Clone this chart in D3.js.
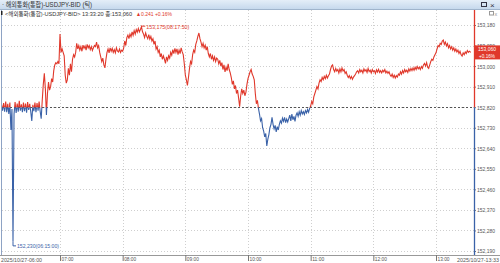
<!DOCTYPE html>
<meta charset="utf-8">
<style>
  body { margin: 0; background: #fff; }
  svg { display: block; font-family: "Liberation Sans", "Noto Sans CJK KR", sans-serif; }
  .grid line { stroke: #cfcfcf; stroke-dasharray: 1,2; }
  .axis text { fill: #555; font-size: 6px; }
  .axis line { stroke: #777; }
</style>

<script src="https://d3js.org/d3.v7.min.js"></script>

<div id="chart"></div>

<script>
// header texts
var title = "해외통화(통합)-USDJPY-BID (틱)";
var infoName = "<해외통화(통합)-USDJPY-BID>";
var lastTime = "13:33:20";
var lastPrice = 153.060, change = 0.241, changePct = 0.16;
var prevClose = 152.819;

// high / low markers [price, time]
var highMark = [153.175, "08:17:50"];
var lowMark = [152.230, "06:15:00"];

// axis ticks
var yTicks = [152.19, 152.28, 152.37, 152.46, 152.55, 152.64, 152.73, 152.82, 152.91, 153.00, 153.09, 153.18];
var xTicks = ["07:00", "08:00", "09:00", "10:00", "11:00", "12:00", "13:00"];
var firstLabel = "2025/10/27-06:00", lastLabel = "2025/10/27-13:33";

// last price of every minute, each list starts at its hourStarts time
var hourStarts = ["06:04", "07:00", "08:00", "09:00", "10:00", "11:00", "12:00", "13:00"];
var hour06 = [152.830, 152.805, 152.838, 152.800, 152.845, 152.798, 152.835, 152.790, 152.840, 152.720,
  152.812, 152.230, 152.790, 152.842, 152.795, 152.836, 152.800, 152.848, 152.805, 152.832,
  152.798, 152.840, 152.802, 152.836, 152.796, 152.842, 152.808, 152.835, 152.800, 152.760,
  152.830, 152.803, 152.840, 152.798, 152.838, 152.805, 152.845, 152.802, 152.770, 152.850,
  152.920, 152.968, 152.900, 152.786, 152.880, 152.930, 152.895, 152.910, 152.945, 152.930,
  152.980, 153.005, 153.015, 153.010, 153.020, 153.010];
var hour07 = [153.140, 153.060, 153.075, 153.060, 153.045, 152.960, 152.925, 152.940, 152.990, 152.960,
  153.010, 152.975, 153.030, 153.050, 153.040, 153.060, 153.100, 153.075, 153.090, 153.070,
  153.085, 153.065, 153.092, 153.078, 153.088, 153.070, 153.095, 153.080, 153.090, 153.072,
  153.085, 153.068, 153.080, 153.090, 153.085, 153.105, 153.080, 153.090, 153.060, 153.040,
  153.020, 153.035, 153.005, 152.992, 153.030, 153.060, 153.075, 153.058, 153.080, 153.065,
  153.078, 153.060, 153.072, 153.058, 153.080, 153.066, 153.062, 153.075, 153.060, 153.070];
var hour08 = [153.065, 153.080, 153.110, 153.090, 153.125, 153.136, 153.120, 153.140, 153.128, 153.150,
  153.135, 153.155, 153.140, 153.160, 153.148, 153.165, 153.150, 153.160, 153.172, 153.150,
  153.140, 153.125, 153.145, 153.130, 153.120, 153.138, 153.118, 153.130, 153.110, 153.120,
  153.095, 153.110, 153.075, 153.085, 153.060, 153.070, 153.040, 153.055, 153.030, 153.045,
  153.030, 153.012, 153.040, 153.025, 153.045, 153.035, 153.060, 153.048, 153.072, 153.055,
  153.078, 153.060, 153.075, 153.050, 153.070, 153.055, 153.080, 153.062, 153.050, 153.010];
var hour09 = [152.960, 152.940, 152.915, 152.950, 152.990, 153.020, 153.010, 153.050, 153.070, 153.060,
  153.095, 153.110, 153.130, 153.145, 153.120, 153.105, 153.085, 153.100, 153.080, 153.092,
  153.070, 153.085, 153.055, 153.040, 153.055, 153.030, 153.045, 153.025, 153.040, 153.020,
  153.035, 153.030, 153.010, 153.025, 153.000, 153.015, 152.985, 153.005, 152.975, 152.995,
  152.980, 153.010, 152.985, 152.970, 152.950, 152.920, 152.935, 152.900, 152.915, 152.880,
  152.895, 152.860, 152.822, 152.870, 152.900, 152.880, 152.895, 152.870, 152.885, 152.920];
var hour10 = [152.945, 152.960, 152.975, 152.985, 152.965, 152.955, 152.940, 152.880, 152.835, 152.850,
  152.815, 152.790, 152.760, 152.770, 152.730, 152.715, 152.690, 152.705, 152.650, 152.680,
  152.700, 152.730, 152.745, 152.775, 152.745, 152.725, 152.740, 152.712, 152.735, 152.720,
  152.745, 152.760, 152.750, 152.772, 152.758, 152.775, 152.752, 152.768, 152.755, 152.770,
  152.785, 152.760, 152.790, 152.765, 152.780, 152.758, 152.785, 152.795, 152.780, 152.800,
  152.785, 152.805, 152.790, 152.800, 152.788, 152.805, 152.795, 152.810, 152.798, 152.815];
var hour11 = [152.825, 152.845, 152.835, 152.865, 152.880, 152.895, 152.910, 152.900, 152.925, 152.940,
  152.932, 152.950, 152.940, 152.955, 152.945, 152.960, 152.948, 152.958, 152.965, 152.985,
  153.000, 153.005, 152.985, 152.975, 152.990, 152.978, 152.985, 152.970, 152.988, 152.975,
  152.992, 152.978, 152.985, 152.968, 152.975, 152.960, 152.950, 152.958, 152.945, 152.955,
  152.942, 152.952, 152.958, 152.965, 152.975, 152.980, 152.970, 152.985, 152.975, 152.982,
  152.970, 152.988, 152.978, 152.984, 152.972, 152.990, 152.976, 152.982, 152.970, 152.985];
var hour12 = [152.975, 152.980, 152.968, 152.984, 152.974, 152.986, 152.972, 152.980, 152.970, 152.982,
  152.975, 152.985, 152.970, 152.978, 152.968, 152.975, 152.962, 152.955, 152.965, 152.950,
  152.960, 152.948, 152.958, 152.952, 152.965, 152.960, 152.975, 152.965, 152.980, 152.970,
  152.985, 152.975, 152.982, 152.972, 152.988, 152.978, 152.990, 152.980, 152.992, 152.982,
  152.995, 152.985, 152.998, 152.988, 152.995, 152.985, 152.998, 152.990, 153.005, 153.012,
  153.000, 153.015, 152.995, 152.990, 153.005, 153.020, 153.030, 153.025, 153.040, 153.050];
var hour13 = [153.058, 153.075, 153.090, 153.085, 153.100, 153.095, 153.110, 153.114, 153.095, 153.105,
  153.088, 153.098, 153.080, 153.090, 153.075, 153.085, 153.070, 153.080, 153.065, 153.075,
  153.062, 153.070, 153.055, 153.065, 153.050, 153.044, 153.058, 153.050, 153.062, 153.055,
  153.068, 153.060, 153.065, 153.060];

var width = 500, height = 263;
var red = "#e0382b", blue = "#3a62a8";

var parseHM = d3.timeParse("%H:%M"), parseHMS = d3.timeParse("%H:%M:%S");
var fmt = function(v) { return d3.format(".3f")(v).replace(".", ","); };

// the original uses a narrow bitmap font, squeeze text to its width
function squeeze(sel, w) {
  return sel.attr("textLength", w).attr("lengthAdjust", "spacingAndGlyphs");
}

// build points
var data = [];
[hour06, hour07, hour08, hour09, hour10, hour11, hour12, hour13].forEach(function(list, i) {
  var start = parseHM(hourStarts[i]);
  list.forEach(function(v, j) { data.push({t: d3.timeMinute.offset(start, j), v: v}); });
});
data[data.length - 1].t = parseHMS(lastTime);

var plot = {left: 2, right: 474, top: 10, bottom: 255};

var x = d3.scaleTime()
  .domain([parseHM("07:00"), parseHM("13:00")])
  .range([60, 436]);

var y = d3.scaleLinear()
  .domain([152.19, 153.18])
  .range([251, 25]);

var svg = d3.select("#chart").append("svg")
  .attr("width", width).attr("height", height);

var defs = svg.append("defs");
var refY = y(prevClose);
defs.append("clipPath").attr("id", "clipUp").append("rect")
  .attr("x", plot.left).attr("y", plot.top)
  .attr("width", plot.right - plot.left).attr("height", refY - plot.top);
defs.append("clipPath").attr("id", "clipDown").append("rect")
  .attr("x", plot.left).attr("y", refY)
  .attr("width", plot.right - plot.left).attr("height", plot.bottom - refY);
var grad = defs.append("linearGradient").attr("id", "titleGrad")
  .attr("x1", 0).attr("y1", 0).attr("x2", 0).attr("y2", 1);
grad.append("stop").attr("offset", "0%").attr("stop-color", "#e4eef8");
grad.append("stop").attr("offset", "100%").attr("stop-color", "#c6d9ed");

// grid
var grid = svg.append("g").attr("class", "grid");
grid.selectAll(".h").data(yTicks).enter().append("line")
  .attr("x1", plot.left).attr("x2", plot.right)
  .attr("y1", function(d) { return Math.round(y(d)) + 0.5; })
  .attr("y2", function(d) { return Math.round(y(d)) + 0.5; });
grid.selectAll(".v").data(xTicks).enter().append("line")
  .attr("y1", plot.top).attr("y2", plot.bottom)
  .attr("x1", function(d) { return Math.round(x(parseHM(d))) + 0.5; })
  .attr("x2", function(d) { return Math.round(x(parseHM(d))) + 0.5; });

// previous close
svg.append("line")
  .attr("x1", plot.left).attr("x2", plot.right)
  .attr("y1", Math.round(refY) + 0.5).attr("y2", Math.round(refY) + 0.5)
  .attr("stroke", "#555").attr("stroke-dasharray", "2,2");

// price line, red above previous close, blue below
var line = d3.line().x(function(d) { return x(d.t); }).y(function(d) { return y(d.v); });
[["clipUp", red], ["clipDown", blue]].forEach(function(c) {
  svg.append("path")
    .datum(data)
    .attr("clip-path", "url(#" + c[0] + ")")
    .attr("d", line)
    .attr("fill", "none")
    .attr("stroke", c[1])
    .attr("stroke-width", 1.1);
});

// frame
svg.append("line").attr("x1", 1.5).attr("x2", 1.5).attr("y1", plot.top).attr("y2", plot.bottom)
  .attr("stroke", "#8ea3c4");
svg.append("line").attr("x1", 0).attr("x2", width).attr("y1", plot.bottom + 0.5).attr("y2", plot.bottom + 0.5)
  .attr("stroke", "#999");

// right axis
var yAxis = svg.append("g").attr("class", "axis")
  .attr("transform", "translate(" + plot.right + ",0)")
  .call(d3.axisRight(y).tickValues(yTicks).tickSize(2).tickPadding(1).tickFormat(fmt));
yAxis.select(".domain").remove();
squeeze(yAxis.selectAll("text"), 18);
svg.append("line").attr("x1", plot.right + 0.5).attr("x2", plot.right + 0.5)
  .attr("y1", plot.top).attr("y2", refY).attr("stroke", red).attr("stroke-width", 1.3);
svg.append("line").attr("x1", plot.right + 0.5).attr("x2", plot.right + 0.5)
  .attr("y1", refY).attr("y2", plot.bottom).attr("stroke", blue).attr("stroke-width", 1.3);

// bottom axis
var xAxis = svg.append("g").attr("class", "axis")
  .attr("transform", "translate(0," + plot.bottom + ")")
  .call(d3.axisBottom(x).tickValues(xTicks.map(parseHM)).tickSize(6).tickFormat(d3.timeFormat("%H:%M")));
xAxis.select(".domain").remove();
squeeze(xAxis.selectAll("text").attr("text-anchor", "start").attr("x", 1).attr("y", 2), 12);
squeeze(svg.append("text").attr("x", 1).attr("y", 262)
  .attr("font-size", 6).attr("fill", "#555").text(firstLabel), 41);
squeeze(svg.append("text").attr("x", 457).attr("y", 262)
  .attr("font-size", 5.5).attr("fill", "#555").text(lastLabel), 42);

// high / low marks
var hx = x(parseHMS(highMark[1])), hy = y(highMark[0]);
svg.append("path").attr("d", "M" + hx + "," + hy + "h4").attr("stroke", red).attr("fill", "none");
squeeze(svg.append("text").attr("x", hx + 5).attr("y", hy + 2.5).attr("font-size", 6).attr("fill", red)
  .text(fmt(highMark[0]) + "(" + highMark[1] + ")"), 43);
var lx = x(parseHMS(lowMark[1])), ly = y(lowMark[0]);
svg.append("path").attr("d", "M" + lx + "," + ly + "v4h3").attr("stroke", blue).attr("fill", "none");
squeeze(svg.append("text").attr("x", lx + 4).attr("y", ly + 6.5).attr("font-size", 6).attr("fill", blue)
  .text(fmt(lowMark[0]) + "(" + lowMark[1] + ")"), 42);

// last price tag
var ty = y(lastPrice);
svg.append("rect").attr("x", plot.right).attr("y", ty - 7).attr("width", width - plot.right).attr("height", 14)
  .attr("fill", red);
squeeze(svg.append("text").attr("x", 478).attr("y", ty - 1)
  .attr("font-size", 6).attr("fill", "#fff").text(fmt(lastPrice)), 18);
squeeze(svg.append("text").attr("x", 479).attr("y", ty + 5.5)
  .attr("font-size", 6).attr("fill", "#fff").text("+" + changePct.toFixed(2) + "%"), 16);

// title bar
svg.append("rect").attr("x", 0).attr("y", 0).attr("width", width).attr("height", 9)
  .attr("fill", "url(#titleGrad)");
svg.append("line").attr("x1", 0).attr("x2", width).attr("y1", 9.5).attr("y2", 9.5).attr("stroke", "#9fb4cc");
squeeze(svg.append("text").attr("x", 2).attr("y", 7).attr("font-size", 6.5).attr("fill", "#333")
  .text("· " + title), 90);
svg.append("rect").attr("x", 481.5).attr("y", 2.5).attr("width", 5).attr("height", 4)
  .attr("fill", "none").attr("stroke", "#334");
svg.append("text").attr("x", 490).attr("y", 7.5).attr("font-size", 8).attr("fill", "#334").text("×");

// info line
svg.append("rect").attr("x", 1).attr("y", 11).attr("width", 1.5).attr("height", 4).attr("fill", "#222");
squeeze(svg.append("text").attr("x", 5).attr("y", 15.5).attr("font-size", 6).attr("fill", "#333")
  .text(infoName + " " + lastTime + " 종:" + fmt(lastPrice)), 127);
squeeze(svg.append("text").attr("x", 136).attr("y", 15.5).attr("font-size", 6).attr("fill", red)
  .text("▲" + change.toFixed(3) + " +" + changePct.toFixed(2) + "%"), 36);
svg.append("rect").attr("x", 489.5).attr("y", 11.5).attr("width", 4).attr("height", 3.5)
  .attr("fill", "#fff").attr("stroke", "#999");
svg.append("text").attr("x", 494.5).attr("y", 15.5).attr("font-size", 5.5).attr("fill", "#999").text("x");
</script>
